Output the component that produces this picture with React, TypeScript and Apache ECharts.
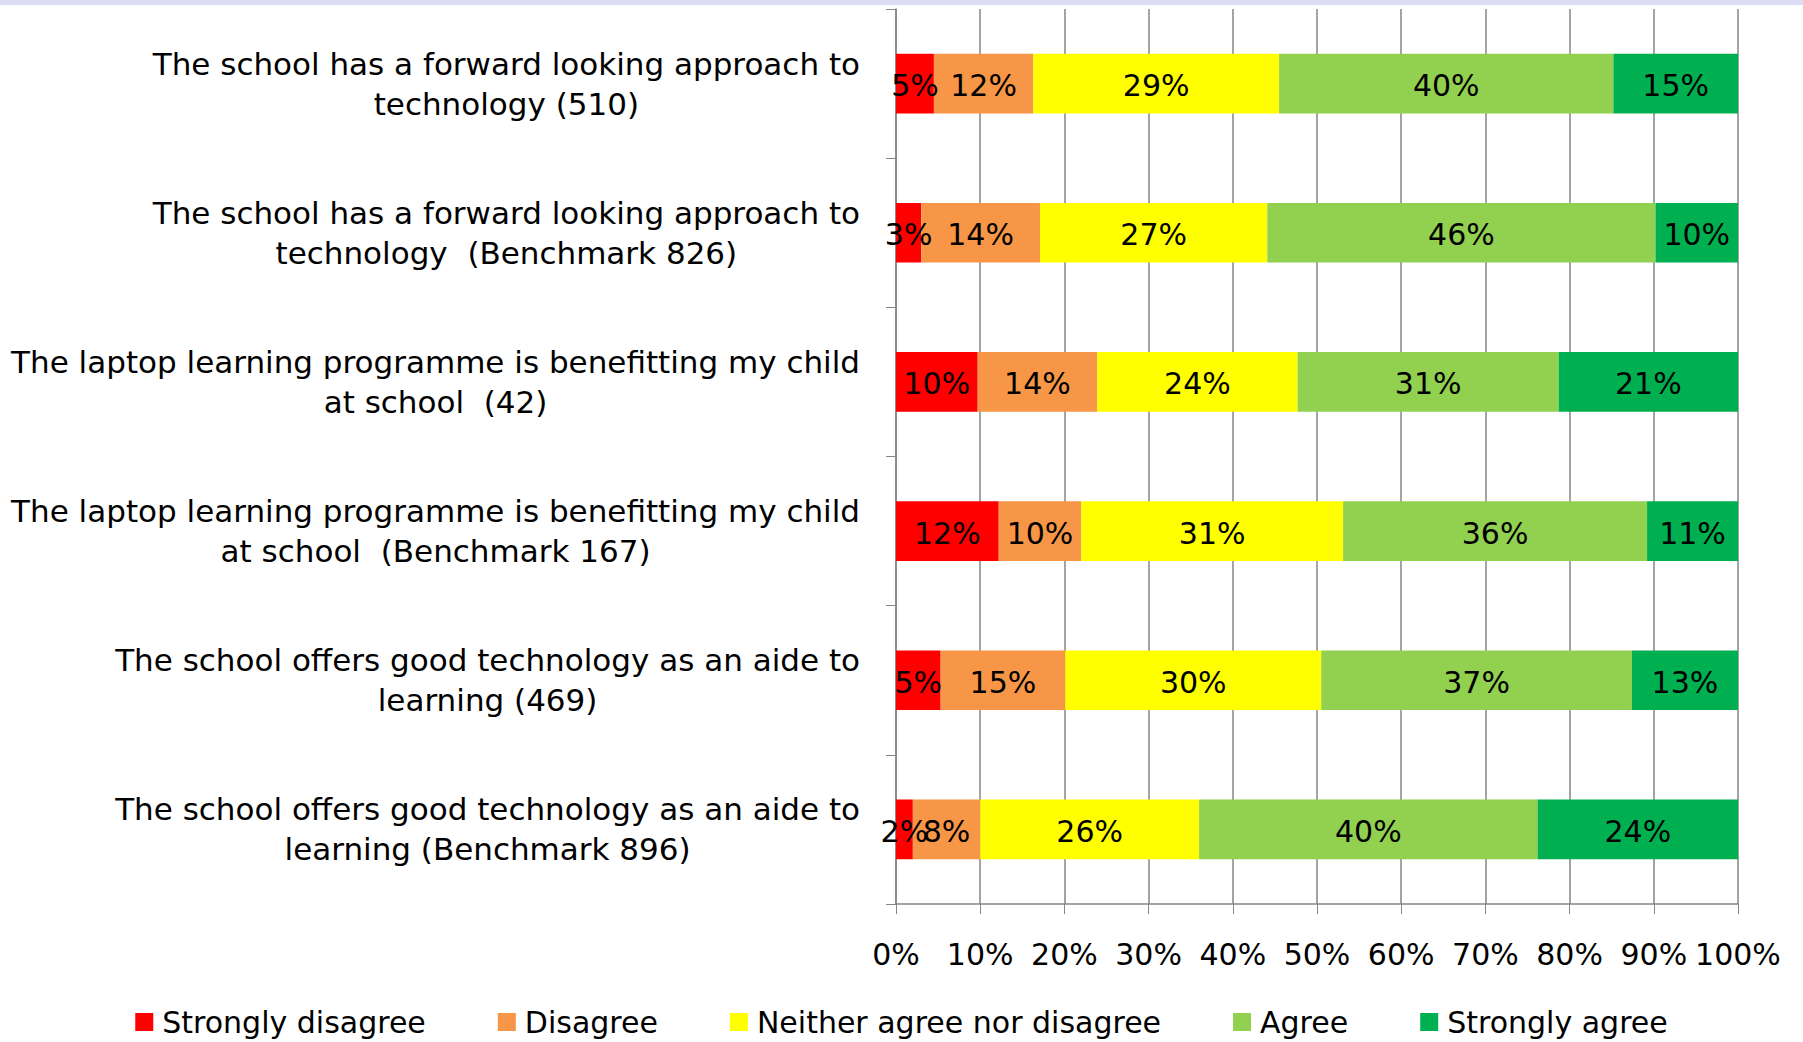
import React, { useEffect, useRef } from "react";
import * as echarts from "echarts";

const categories: string[] = [
  "The school has a forward looking approach to\ntechnology (510)",
  "The school has a forward looking approach to\ntechnology  (Benchmark 826)",
  "The laptop learning programme is benefitting my child\nat school  (42)",
  "The laptop learning programme is benefitting my child\nat school  (Benchmark 167)",
  "The school offers good technology as an aide to\nlearning (469)",
  "The school offers good technology as an aide to\nlearning (Benchmark 896)",
];

const seriesNames: string[] = [
  "Strongly disagree",
  "Disagree",
  "Neither agree nor disagree",
  "Agree",
  "Strongly agree",
];

const stronglyDisagree: number[] = [4.5, 3.0, 9.7, 12.2, 5.3, 2.0];
const disagree: number[] = [11.8, 14.1, 14.2, 9.8, 14.8, 8.0];
const neither: number[] = [29.2, 27.0, 23.8, 31.1, 30.4, 26.0];
const agree: number[] = [39.7, 46.1, 31.0, 36.1, 36.9, 40.2];
const stronglyAgree: number[] = [14.8, 9.8, 21.3, 10.8, 12.6, 23.8];

const xTicks: number[] = [0, 10, 20, 30, 40, 50, 60, 70, 80, 90, 100];

const colors = ["#FF0000", "#F79646", "#FFFF00", "#92D050", "#00B050"];
const FONT = "DejaVu Sans";

export default function App() {
  const ref = useRef<HTMLDivElement>(null);
  useEffect(() => {
    if (!ref.current) return;
    const chart = echarts.init(ref.current, undefined, { renderer: "svg" });
    const allData = [stronglyDisagree, disagree, neither, agree, stronglyAgree];
    chart.setOption({
      animation: false,
      backgroundColor: "#ffffff",
      textStyle: { fontFamily: FONT },
      graphic: [
        {
          type: "rect",
          shape: { x: 0, y: 0, width: 1803, height: 5 },
          style: { fill: "#DCDCF2" },
          silent: true,
        },
      ],
      legend: {
        data: seriesNames,
        left: "center",
        top: 1006,
        padding: 0,
        itemWidth: 18,
        itemHeight: 18,
        itemGap: 72,
        icon: "rect",
        textStyle: {
          fontSize: 30,
          fontFamily: FONT,
          color: "#000",
          lineHeight: 32,
          padding: [0, 0, 0, 4],
        },
      },
      grid: { left: 896, right: 65, top: 9, bottom: 138, containLabel: false },
      xAxis: {
        type: "value",
        min: xTicks[0],
        max: xTicks[xTicks.length - 1],
        interval: 10,
        axisLine: { show: true, lineStyle: { color: "#868686", width: 1.5 } },
        axisTick: { show: true, length: 10, lineStyle: { color: "#868686" } },
        splitLine: { show: true, lineStyle: { color: "#868686", width: 1.5 } },
        axisLabel: {
          formatter: "{value}%",
          fontSize: 30,
          fontFamily: FONT,
          color: "#000",
          margin: 35,
        },
      },
      yAxis: {
        type: "category",
        data: categories,
        inverse: true,
        axisLine: { show: true, lineStyle: { color: "#868686", width: 1.5 } },
        axisTick: { show: true, length: 10, lineStyle: { color: "#868686" } },
        splitLine: { show: false },
        axisLabel: {
          align: "right",
          margin: 36,
          formatter: (v: string) =>
            v
              .split("\n")
              .map((l) => `{c|${l}}`)
              .join("\n"),
          rich: {
            c: {
              align: "center",
              fontSize: 31,
              fontFamily: FONT,
              color: "#000",
              lineHeight: 40,
            },
          },
        },
      },
      series: seriesNames.map((name, i) => ({
        name,
        type: "bar",
        stack: "total",
        barWidth: "40%",
        data: allData[i],
        itemStyle: { color: colors[i] },
        label: {
          show: true,
          position: "inside",
          color: "#000",
          fontSize: 30,
          fontFamily: FONT,
          offset: [0, 2],
          formatter: (p: any) => `${Math.round(p.value)}%`,
        },
      })),
    });
    return () => chart.dispose();
  }, []);
  return (
    <div
      ref={ref}
      style={{ position: "fixed", left: 0, top: 0, width: 1803, height: 1042 }}
    />
  );
}
